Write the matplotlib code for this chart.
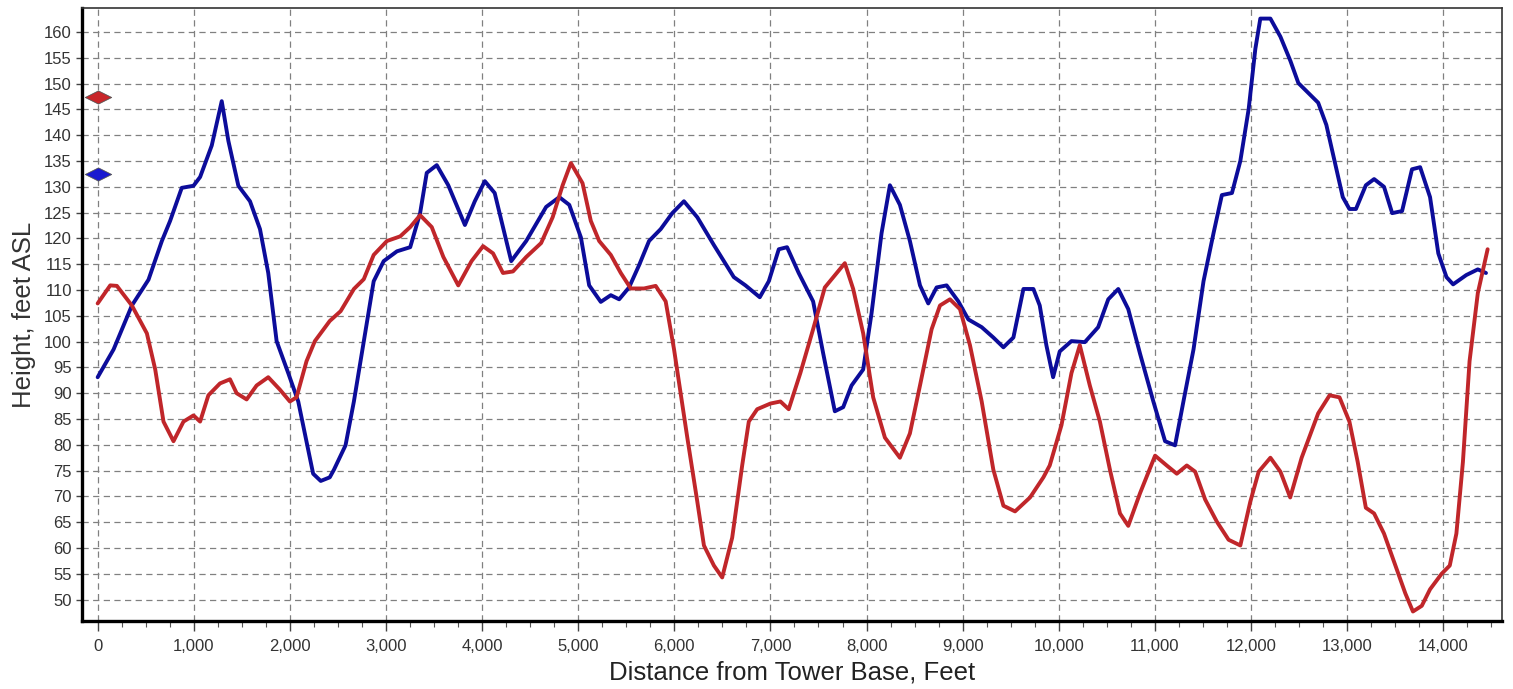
import matplotlib
matplotlib.use("Agg")
import matplotlib.pyplot as plt
from matplotlib.ticker import MultipleLocator, FuncFormatter
from matplotlib.path import Path

plt.rcParams['font.family'] = ['Liberation Sans', 'DejaVu Sans']

# terrain profile along the path, feet from tower base vs height ASL
blue_x = [0, 166, 356, 529, 668, 754, 875, 997, 1066, 1187, 1291, 1360, 1464, 1585,
          1689, 1775, 1862, 1983, 2087, 2242, 2321, 2415, 2459, 2579, 2666, 2769, 2872,
          2976, 3114, 3252, 3355, 3424, 3528, 3648, 3821, 3924, 4028, 4131, 4303, 4459,
          4666, 4803, 4907, 5028, 5114, 5235, 5339, 5426, 5529, 5633, 5737, 5858, 5979,
          6100, 6239, 6412, 6619, 6740, 6889, 6983, 7087, 7173, 7294, 7444, 7549, 7670,
          7757, 7844, 7965, 8052, 8156, 8243, 8347, 8451, 8556, 8642, 8729, 8833, 8955,
          9059, 9198, 9319, 9424, 9528, 9632, 9736, 9802, 9871, 9941, 10010, 10132,
          10271, 10410, 10515, 10619, 10723, 10845, 10984, 11106, 11210, 11297, 11402,
          11506, 11610, 11697, 11802, 11889, 11976, 12045, 12097, 12202, 12306, 12410,
          12493, 12699, 12784, 12870, 12955, 13024, 13092, 13195, 13281, 13384, 13469,
          13572, 13675, 13760, 13863, 13949, 14034, 14103, 14240, 14360, 14445]
blue_h = [93.1, 98.5, 107, 112, 119.5, 123.4, 129.8, 130.2, 131.9, 138, 146.6, 138.9,
          130.2, 127.2, 121.8, 113.3, 100.1, 93.9, 88.4, 74.4, 73.0, 73.7, 75.2, 79.9,
          88.4, 100.1, 111.7, 115.6, 117.5, 118.3, 124.9, 132.7, 134.2, 130.3, 122.6,
          127.2, 131.1, 128.8, 115.6, 119.5, 126.1, 128, 126.5, 120.2, 110.9, 107.7, 109,
          108.2, 110.5, 114.8, 119.5, 121.8, 124.9, 127.2, 124.1, 118.7, 112.5, 110.9,
          108.6, 111.7, 117.9, 118.3, 113.3, 107.8, 97.7, 86.5, 87.3, 91.5, 94.6, 105.5,
          121, 130.3, 126.5, 119.5, 110.9, 107.4, 110.5, 110.9, 107.8, 104.3, 102.8,
          100.8, 98.9, 100.8, 110.2, 110.2, 107, 99.3, 93.1, 98.1, 100.1, 99.9, 102.8,
          108.2, 110.2, 106.3, 97.7, 88.4, 80.7, 79.9, 88.4, 98.5, 111.7, 121, 128.4,
          128.8, 135, 145.1, 156.7, 162.6, 162.6, 159.1, 154.4, 150.1, 146.3, 142, 135,
          128, 125.7, 125.7, 130.3, 131.5, 130, 124.9, 125.3, 133.4, 133.8, 128, 117.1,
          112.5, 111.1, 112.9, 114, 113.3]

red_x = [0, 131, 200, 356, 512, 599, 685, 789, 893, 997, 1066, 1152, 1273, 1377, 1446,
         1550, 1654, 1775, 1896, 2000, 2069, 2173, 2260, 2415, 2528, 2666, 2769, 2872,
         3010, 3148, 3252, 3355, 3476, 3597, 3752, 3890, 4010, 4114, 4217, 4321, 4459,
         4614, 4734, 4838, 4924, 5045, 5131, 5218, 5339, 5443, 5547, 5685, 5806, 5910,
         5997, 6066, 6135, 6239, 6308, 6412, 6498, 6602, 6706, 6775, 6862, 7000, 7104,
         7190, 7311, 7444, 7566, 7774, 7861, 7965, 8069, 8191, 8347, 8451, 8556, 8677,
         8764, 8868, 8972, 9076, 9198, 9319, 9424, 9545, 9701, 9840, 9906, 10028, 10132,
         10219, 10323, 10428, 10532, 10637, 10723, 10845, 11002, 11123, 11228, 11332,
         11419, 11523, 11645, 11767, 11889, 11993, 12080, 12202, 12306, 12408, 12527,
         12699, 12818, 12921, 13024, 13110, 13195, 13281, 13384, 13503, 13606, 13685,
         13777, 13863, 13983, 14068, 14137, 14205, 14274, 14360, 14462]
red_h = [107.4, 110.9, 110.8, 107, 101.6, 94.6, 84.5, 80.7, 84.5, 85.7, 84.5, 89.6, 91.9,
         92.7, 90, 88.8, 91.5, 93.1, 90.7, 88.4, 89.2, 96.2, 100.1, 104, 105.9, 110.2,
         112.1, 116.8, 119.5, 120.4, 122.2, 124.5, 122.2, 116.4, 110.9, 115.6, 118.5,
         117.1, 113.3, 113.6, 116.4, 119.1, 124.1, 130.3, 134.6, 130.7, 123.4, 119.5,
         116.8, 113.3, 110.3, 110.3, 110.8, 107.8, 98.5, 90, 81.4, 69, 60.5, 56.6, 54.3,
         62, 76, 84.5, 86.9, 88, 88.4, 86.9, 93.9, 102.4, 110.5, 115.2, 110.2, 101.6,
         89.2, 81.4, 77.5, 82.2, 91.5, 102.4, 107, 108.2, 106.3, 99.3, 88.4, 75.2, 68.2,
         67.1, 69.8, 73.7, 76, 83.8, 93.9, 99.3, 91.5, 84.5, 75.2, 66.7, 64.3, 70.6,
         77.9, 76, 74.4, 76, 74.8, 69.4, 65.1, 61.6, 60.5, 69, 74.8, 77.5, 74.8, 69.8,
         77.5, 86.1, 89.6, 89.2, 84.5, 76.7, 67.8, 66.7, 62.8, 56.6, 51.2, 47.7, 48.8,
         52, 55, 56.6, 62.8, 76.7, 96.2, 109.4, 117.9]

# antenna heights marked at the tower base
tower_x = [0, 0]
tower_h = [147.5, 132.5]
tower_colors = ['#c8262a', '#1a1ad0']

fig = plt.figure(figsize=(15.13, 6.89), dpi=100)
ax = fig.add_axes([0.054, 0.099, 0.9385, 0.889])

ax.plot(blue_x, blue_h, color='#0c0c9a', lw=2.8, solid_joinstyle='round',
        solid_capstyle='round', zorder=3)
ax.plot(red_x, red_h, color='#c0262a', lw=2.8, solid_joinstyle='round',
        solid_capstyle='round', zorder=4)

diamond = Path([(-1, 0), (0, 0.5), (1, 0), (0, -0.5), (-1, 0)],
               [Path.MOVETO, Path.LINETO, Path.LINETO, Path.LINETO, Path.CLOSEPOLY])
for tx, th, tc in zip(tower_x, tower_h, tower_colors):
    ax.plot([tx], [th], marker=diamond, ms=19, color=tc, mec='#555555', mew=0.6,
            ls='none', zorder=5)

ax.set_xlim(-166, 14608)
ax.set_ylim(45.9, 164.6)

ax.xaxis.set_major_locator(MultipleLocator(1000))
ax.xaxis.set_minor_locator(MultipleLocator(250))
ax.yaxis.set_major_locator(MultipleLocator(5))
ax.xaxis.set_major_formatter(FuncFormatter(lambda v, p: f"{int(v):,}"))

ax.grid(True, which='major', color='#808080', ls=(0, (5, 3.5)), lw=0.9)
ax.set_axisbelow(True)

ax.tick_params(axis='both', which='major', labelsize=12, labelcolor='#333333',
               color='#444444', direction='out')
ax.tick_params(axis='x', which='major', length=7, width=1, pad=6)
ax.tick_params(axis='y', which='major', length=4, width=1, pad=3)
ax.tick_params(axis='x', which='minor', length=4, width=0.8, color='#555555')

for side in ['left', 'bottom']:
    ax.spines[side].set_linewidth(2.4)
    ax.spines[side].set_color('#000000')
for side in ['top', 'right']:
    ax.spines[side].set_linewidth(1.2)
    ax.spines[side].set_color('#333333')

ax.set_xlabel('Distance from Tower Base, Feet', fontsize=18.5, color='#222222', labelpad=5)
ax.set_ylabel('Height, feet ASL', fontsize=18.5, color='#333333', labelpad=6)

fig.savefig('out.png', dpi=100, facecolor='white')
